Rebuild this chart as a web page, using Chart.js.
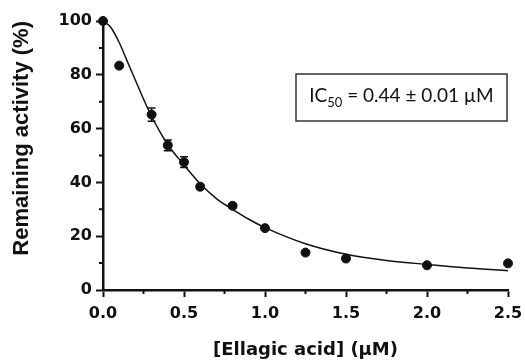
<!DOCTYPE html>
<html>
<head>
<meta charset="utf-8">
<script src="https://cdn.jsdelivr.net/npm/chart.js@4/dist/chart.umd.min.js"></script>
<style>
  html, body { margin: 0; padding: 0; background: #fff; }
  #wrap { width: 525px; height: 361px; }
</style>
</head>
<body>
<div id="wrap"><canvas id="ic50-chart" width="525" height="361"></canvas></div>
<script>
// Measured points (mean +/- error)
var conc = [0, 0.1, 0.3, 0.4, 0.5, 0.6, 0.8, 1.0, 1.25, 1.5, 2.0, 2.5];
var activity = [100, 83.4, 65.2, 53.8, 47.5, 38.4, 31.3, 23.0, 13.9, 11.7, 9.2, 9.9];
var errors = [0, 0.5, 2.5, 2.0, 2.0, 0.8, 0.8, 0.5, 0.5, 0.5, 0.5, 0.5];

// Fitted curve
var fitConc = [0, 0.05, 0.1, 0.15, 0.2, 0.25, 0.3, 0.35, 0.4, 0.5, 0.6, 0.7, 0.8, 0.9, 1.0, 1.25, 1.5, 1.75, 2.0, 2.25, 2.5];
var fitActivity = [100, 97.5, 92, 85, 78, 71, 64.5, 59, 54, 46.5, 39.5, 34, 30, 26.3, 23.2, 17.2, 13.3, 11, 9.5, 8.2, 7.2];

// Axis ticks
var xMinorTicks = [0.25, 0.75, 1.25, 1.75, 2.25];
var yMinorTicks = [10, 30, 50, 70, 90];

var ic50Label = "IC";
var ic50Sub = "50";
var ic50Value = " = 0.44 \u00b1 0.01 \u00b5M";

var tickFont = { family: "'DejaVu Sans', sans-serif", size: 16, weight: 'bold' };

// minor ticks + error bars
var extrasPlugin = {
    id: 'extras',
    afterDatasetsDraw: function(chart) {
        var ctx = chart.ctx;
        var x = chart.scales.x, y = chart.scales.y;
        ctx.save();
        ctx.strokeStyle = '#111';
        ctx.lineWidth = 2;
        ctx.beginPath();
        xMinorTicks.forEach(function(v) {
            var px = x.getPixelForValue(v);
            ctx.moveTo(px, y.bottom);
            ctx.lineTo(px, y.bottom + 4);
        });
        yMinorTicks.forEach(function(v) {
            var py = y.getPixelForValue(v);
            ctx.moveTo(x.left, py);
            ctx.lineTo(x.left - 4, py);
        });
        ctx.stroke();

        ctx.lineWidth = 1.5;
        ctx.beginPath();
        for (var i = 0; i < conc.length; i++) {
            if (!errors[i]) continue;
            var px = x.getPixelForValue(conc[i]);
            var top = y.getPixelForValue(activity[i] + errors[i]);
            var bot = y.getPixelForValue(activity[i] - errors[i]);
            ctx.moveTo(px, top); ctx.lineTo(px, bot);
            ctx.moveTo(px - 4, top); ctx.lineTo(px + 4, top);
            ctx.moveTo(px - 4, bot); ctx.lineTo(px + 4, bot);
        }
        ctx.stroke();
        ctx.restore();
    },
    afterDraw: function(chart) {
        // IC50 box
        var ctx = chart.ctx;
        var bx = 296, by = 74, bw = 211, bh = 47;
        ctx.save();
        ctx.strokeStyle = '#333';
        ctx.lineWidth = 1.5;
        ctx.strokeRect(bx, by, bw, bh);
        ctx.fillStyle = '#111';
        ctx.textBaseline = 'alphabetic';
        var big = "19px Lato, 'Open Sans', sans-serif";
        var small = "13px Lato, 'Open Sans', sans-serif";
        ctx.font = big;
        var w1 = ctx.measureText(ic50Label).width;
        var w3 = ctx.measureText(ic50Value).width;
        ctx.font = small;
        var w2 = ctx.measureText(ic50Sub).width;
        var tx = bx + (bw - (w1 + w2 + w3)) / 2;
        var base = 102;
        ctx.font = big;
        ctx.fillText(ic50Label, tx, base);
        ctx.font = small;
        ctx.fillText(ic50Sub, tx + w1, base + 5);
        ctx.font = big;
        ctx.fillText(ic50Value, tx + w1 + w2, base);
        ctx.restore();
    }
};

var chartData = {
    datasets: [{
        label: 'Fit',
        type: 'line',
        data: fitConc.map(function(c, i) { return { x: c, y: fitActivity[i] }; }),
        borderColor: '#111',
        borderWidth: 1.5,
        pointRadius: 0,
        fill: false,
        cubicInterpolationMode: 'monotone',
        clip: false
    }, {
        label: 'Remaining activity',
        type: 'scatter',
        data: conc.map(function(c, i) { return { x: c, y: activity[i] }; }),
        backgroundColor: '#111',
        borderColor: '#111',
        pointRadius: 4.5,
        clip: false
    }]
};

var chartOptions = {
    responsive: false,
    animation: false,
    devicePixelRatio: 1,
    layout: { padding: { left: 0, top: 21, right: 17, bottom: 0 } },
    plugins: { legend: { display: false }, tooltip: { enabled: false } },
    scales: {
        x: {
            type: 'linear',
            min: 0, max: 2.5,
            afterFit: function(scale) {
                scale.height = 71;
                scale.paddingLeft = 0;
                scale.paddingRight = 0;
            },
            ticks: {
                stepSize: 0.5,
                color: '#111',
                font: tickFont,
                padding: 7,
                maxRotation: 0,
                callback: function(v) { return v.toFixed(1); }
            },
            grid: { drawOnChartArea: false, drawTicks: true, tickLength: 7, tickColor: '#111', tickWidth: 2 },
            border: { color: '#111', width: 2.5 },
            title: {
                display: true,
                text: '[Ellagic acid] (\u00b5M)',
                color: '#111',
                font: { family: "'DejaVu Sans', sans-serif", size: 18, weight: 'bold' },
                padding: { top: 0, bottom: 0 }
            }
        },
        y: {
            min: 0, max: 100,
            afterFit: function(scale) {
                scale.width = 103;
                scale.paddingTop = 0;
                scale.paddingBottom = 0;
            },
            ticks: { stepSize: 20, color: '#111', font: tickFont, padding: 4 },
            grid: { drawOnChartArea: false, drawTicks: true, tickLength: 7, tickColor: '#111', tickWidth: 2 },
            border: { color: '#111', width: 2.5 },
            title: {
                display: true,
                text: 'Remaining activity (%)',
                align: 'end',
                color: '#111',
                font: { family: "'Liberation Sans', Arial, sans-serif", size: 22, weight: 'bold' },
                padding: { top: 9, bottom: 0 }
            }
        }
    }
};

window.addEventListener('load', function() {
    var ctx = document.getElementById('ic50-chart');
    new Chart(ctx, { data: chartData, options: chartOptions, plugins: [extrasPlugin] });
});
</script>
</body>
</html>
